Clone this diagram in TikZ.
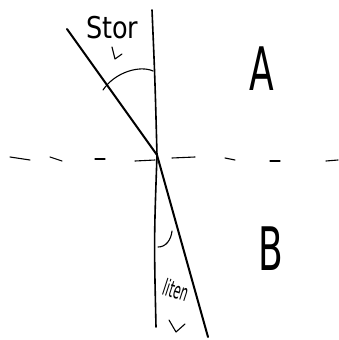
\documentclass[tikz,border=0pt]{standalone}
\usepackage{fontspec}
\setmainfont{DejaVu Sans}[Scale=1]
\begin{document}
\begin{tikzpicture}[x=1pt,y=-1pt,
  ray/.style={line width=2pt,line cap=round},
  normalline/.style={line width=1.6pt,line cap=round},
  dashseg/.style={line width=1.1pt,line cap=round},
  arcline/.style={line width=1.1pt,line cap=round,line join=round},
  hand/.style={inner sep=0pt,font=\fontsize{30}{30}\selectfont\addfontfeature{FakeStretch=0.85}},
  small/.style={inner sep=0pt,font=\fontsize{23}{23}\selectfont\addfontfeature{FakeStretch=0.5}},
  big/.style={inner sep=0pt,font=\fontsize{60}{60}\selectfont\addfontfeature{FakeStretch=0.6}}]
\useasboundingbox (0,0) rectangle (339,340);
% normal
\coordinate (ntop) at (152,10);
\coordinate (O) at (157,155);
\coordinate (nbot) at (156,327);
\draw[normalline] (ntop) .. controls (155,80) .. (O) .. controls (154,240) .. (nbot);
% incident ray
\coordinate (inc) at (67,29);
\draw[ray] (inc) -- (O);
% refracted ray
\coordinate (refr) at (208,337);
\draw[ray] (O) -- (refr);
% interface dashes
\foreach \a/\b/\c/\d in {10/157/30/160, 50/157/62/161, 95/159/105/159, 135/161/155/160, 172/158/195/157, 225/158/235/160, 270/161/280/161, 326/161/338/160}
  \draw[dashseg] (\a,\b) -- (\c,\d);
% angle arcs
\draw[arcline] (103,90) .. controls (115,72) and (140,65) .. (153,71);
\draw[arcline] (158,247) .. controls (166,247) and (171,240) .. (172,231);
% labels
\node[hand,anchor=base west] (stor) at (86,38) {Stor};
\draw[arcline] (112,47) -- (115,59) -- (122,54);
\node[small,anchor=base west,rotate=-18] (liten) at (161,294) {liten};
\draw[arcline] (169,320) -- (176,332) -- (185,324);
\node[big] (A) at (262,69) {A};
\node[big] (B) at (271,249) {B};
\end{tikzpicture}
\end{document}
